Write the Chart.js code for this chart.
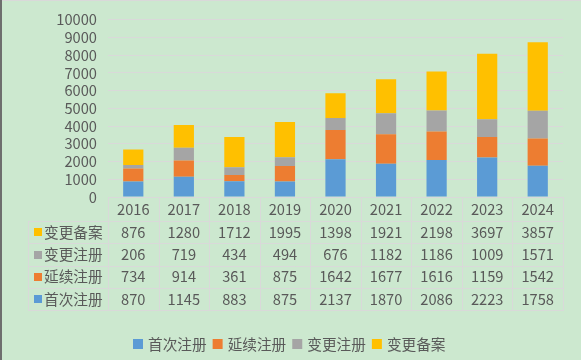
<!DOCTYPE html>
<html>
<head>
<meta charset="utf-8">
<script src="https://cdn.jsdelivr.net/npm/chart.js@4"></script>
<style>
html,body{margin:0;padding:0;background:#CCE8CF;}
#wrap{width:581px;height:360px;position:relative;}
</style>
</head>
<body>
<div id="wrap"><canvas id="c"></canvas></div>
<script>
const years = ['2016','2017','2018','2019','2020','2021','2022','2023','2024'];
const seriesNames = ['首次注册','延续注册','变更注册','变更备案'];
const firstReg   = [870, 1145, 883, 875, 2137, 1870, 2086, 2223, 1758];
const renewReg   = [734, 914, 361, 875, 1642, 1677, 1616, 1159, 1542];
const changeReg  = [206, 719, 434, 494, 676, 1182, 1186, 1009, 1571];
const changeFile = [876, 1280, 1712, 1995, 1398, 1921, 2198, 3697, 3857];
const yTicks = [0,1000,2000,3000,4000,5000,6000,7000,8000,9000,10000];
const colors = ['#5B9BD5','#ED7D31','#A5A5A5','#FFC000'];

const FONT = "'Noto Sans CJK SC','Noto Sans',sans-serif";
const FS = 14.67;
const TXT = '#595959';
const LINE = '#D9D9D9';

const seriesData = [firstReg, renewReg, changeReg, changeFile];

const tablePlugin = {
  id: 'tablePlugin',
  beforeDraw(chart){
    const ctx = chart.ctx;
    ctx.save();
    ctx.fillStyle = '#CCE8CF';
    ctx.fillRect(0,0,chart.width,chart.height);
    ctx.restore();
  },
  afterDraw(chart){
    const ctx = chart.ctx;
    const xs = chart.scales.x;
    const area = chart.chartArea;
    const left = area.left, right = area.right;
    const n = years.length;
    const colW = (right-left)/n;
    const rowLines = [197, 221, 243.3, 265.7, 288, 310];
    const labelLeft = 28;
    ctx.save();
    ctx.strokeStyle = LINE;
    ctx.lineWidth = 1;
    ctx.beginPath();
    ctx.moveTo(left, Math.round(rowLines[0])+0.5);
    ctx.lineTo(right, Math.round(rowLines[0])+0.5);
    for (let i=1;i<rowLines.length;i++){
      const y = Math.round(rowLines[i])+0.5;
      ctx.moveTo(labelLeft, y); ctx.lineTo(right, y);
    }
    for (let k=0;k<=n;k++){
      const x = Math.round(left + k*colW)+0.5;
      ctx.moveTo(x, Math.round(rowLines[0])); ctx.lineTo(x, Math.round(rowLines[5])+1);
    }
    ctx.moveTo(labelLeft+0.5, Math.round(rowLines[1])); ctx.lineTo(labelLeft+0.5, Math.round(rowLines[5])+1);
    ctx.stroke();

    ctx.font = FS + 'px ' + FONT;
    ctx.fillStyle = TXT;
    ctx.textBaseline = 'middle';
    ctx.textAlign = 'center';
    const hy = (rowLines[0]+rowLines[1])/2;
    years.forEach((yr,i)=>{
      ctx.fillText(yr, xs.getPixelForValue(i), hy);
    });
    for (let r=0;r<4;r++){
      const s = 3-r;
      const cy = (rowLines[r+1]+rowLines[r+2])/2;
      ctx.fillStyle = colors[s];
      ctx.fillRect(34, Math.round(cy-4), 8, 8);
      ctx.fillStyle = TXT;
      ctx.textAlign = 'left';
      ctx.fillText(seriesNames[s], 44, cy);
      ctx.textAlign = 'center';
      seriesData[s].forEach((v,i)=>{
        ctx.fillText(String(v), xs.getPixelForValue(i), cy);
      });
    }
    const gapBox = 5, gapItem = 6, box = 10;
    const widths = seriesNames.map(t=>ctx.measureText(t).width);
    const total = widths.reduce((a,w)=>a+box+gapBox+w,0) + gapItem*(seriesNames.length-1);
    let x = Math.round(chart.width/2 - 1 - total/2);
    const ly = 344;
    ctx.textAlign = 'left';
    seriesNames.forEach((t,i)=>{
      ctx.fillStyle = colors[i];
      ctx.fillRect(x, ly-5, box, box);
      ctx.fillStyle = TXT;
      ctx.fillText(t, x+box+gapBox, ly);
      x += box+gapBox+widths[i]+gapItem;
    });
    ctx.fillStyle = '#D9D9D9';
    ctx.fillRect(0,0,chart.width,1);
    ctx.fillStyle = '#6E6E6E';
    ctx.fillRect(0,0,2,chart.height);
    ctx.restore();
  }
};

new Chart(document.getElementById('c'), {
  type: 'bar',
  data: {
    labels: years,
    datasets: seriesNames.map((name,i)=>({
      label: name,
      data: seriesData[i],
      backgroundColor: colors[i],
      borderWidth: 0,
      barPercentage: 0.4,
      categoryPercentage: 1.0
    }))
  },
  options: {
    responsive: true,
    maintainAspectRatio: false,
    animation: false,
    layout: { padding: { top: 19, right: 18, bottom: 163, left: 0 } },
    plugins: { legend: { display: false }, tooltip: { enabled: false } },
    scales: {
      x: { stacked: true, display: false },
      y: {
        stacked: true,
        min: yTicks[0], max: yTicks[yTicks.length-1],
        afterBuildTicks(scale){ scale.ticks = yTicks.map(v=>({value:v})); },
        afterFit(scale){ scale.width = 108; },
        grid: { color: LINE, lineWidth: 1, drawTicks: false },
        border: { display: false },
        ticks: {
          stepSize: 1000,
          autoSkip: false,
          padding: 11,
          color: TXT,
          font: { family: FONT, size: FS },
          callback: (v)=>String(v)
        }
      }
    }
  },
  plugins: [tablePlugin]
});
</script>
</body>
</html>
